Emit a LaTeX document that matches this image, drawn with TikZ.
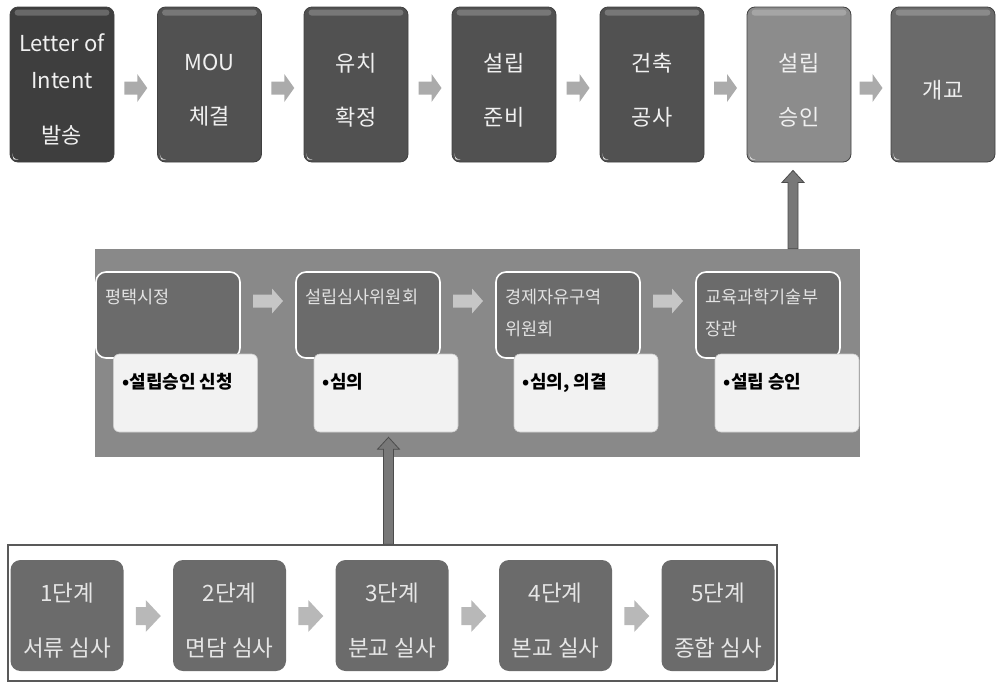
\documentclass[tikz,border=0pt]{standalone}
\usepackage{fontspec}
\setmainfont{Noto Sans CJK KR}
\usetikzlibrary{calc}
\definecolor{boxA}{HTML}{3E3E3E}
\definecolor{boxB}{HTML}{515151}
\definecolor{boxF}{HTML}{8C8C8C}
\definecolor{boxG}{HTML}{6A6A6A}
\definecolor{bandc}{HTML}{898989}
\definecolor{midfill}{HTML}{6B6B6B}
\definecolor{whitefill}{HTML}{F2F2F2}
\definecolor{botfill}{HTML}{6B6B6B}
\definecolor{arrowtop}{HTML}{ABABAB}
\definecolor{arrowmid}{HTML}{C6C6C6}
\definecolor{arrowbot}{HTML}{B8B8B8}
\definecolor{bigarr}{HTML}{787878}
\definecolor{toptext}{HTML}{F0F0F0}
\definecolor{midtext}{HTML}{E2E2E2}
\definecolor{bottext}{HTML}{E6E6E6}

\tikzset{
 topbox/.style={draw=black!75, line width=0.8pt, rounded corners=8pt, minimum width=104pt, minimum height=155pt, inner sep=0pt},
 toplabel/.style={text=toptext, align=center, inner sep=0pt, font=\fontsize{22}{54}\selectfont},
 midup/.style={draw=white, line width=1.6pt, fill=midfill, rounded corners=10pt, minimum width=144pt, minimum height=86pt, inner sep=0pt},
 midlabel/.style={text=midtext, align=left, anchor=north west, inner sep=0pt, font=\fontsize{17.5}{32}\selectfont},
 midlow/.style={draw=black!20, line width=0.6pt, fill=whitefill, rounded corners=6pt, minimum width=144pt, minimum height=78pt, inner sep=0pt},
 lowlabel/.style={text=black, anchor=north west, inner sep=0pt, font=\fontsize{18}{20}\selectfont\bfseries},
 botbox/.style={fill=botfill, rounded corners=10pt, minimum width=113pt, minimum height=111pt, inner sep=0pt},
 botlabel/.style={text=bottext, align=center, inner sep=0pt, font=\fontsize{22.5}{55}\selectfont},
 gloss/.style={fill=white, opacity=0.22, rounded corners=3pt},
 curl/.style={fill=white!88!black},
}

% horizontal block arrow: #1 centre, #2 shaft length, #3 head length, #4 shaft half width, #5 head half width, #6 colour
\newcommand\hblk[6]{%
 \fill[#6] let \p1=(#1) in
 ({\x1-0.5*(#2pt+#3pt)},{\y1-#4pt}) -- ({\x1-0.5*(#2pt+#3pt)+#2pt},{\y1-#4pt}) --
 ({\x1-0.5*(#2pt+#3pt)+#2pt},{\y1-#5pt}) -- ({\x1+0.5*(#2pt+#3pt)},\y1) --
 ({\x1-0.5*(#2pt+#3pt)+#2pt},{\y1+#5pt}) -- ({\x1-0.5*(#2pt+#3pt)+#2pt},{\y1+#4pt}) --
 ({\x1-0.5*(#2pt+#3pt)},{\y1+#4pt}) -- cycle;}

% vertical upward block arrow: #1 base, #2 tip
\newcommand\vblk[2]{%
 \filldraw[fill=bigarr, draw=black!70, line width=0.8pt] let \p1=(#1), \p2=(#2) in
 ({\x2-5pt},\y1) -- ({\x2-5pt},{\y2-12pt}) -- ({\x2-11pt},{\y2-12pt}) -- (\x2,\y2) --
 ({\x2+11pt},{\y2-12pt}) -- ({\x2+5pt},{\y2-12pt}) -- ({\x2+5pt},\y1) -- cycle;}

\begin{document}
\begin{tikzpicture}[x=1pt,y=-1pt]
\useasboundingbox (0,0) rectangle (997,683);

% ---------- top row ----------
\node[topbox, fill=boxA] (t1) at (62,84.5) {};
\node[topbox, fill=boxB] (t2) at (209.5,84.5) {};
\node[topbox, fill=boxB] (t3) at (356,84.5) {};
\node[topbox, fill=boxB] (t4) at (504,84.5) {};
\node[topbox, fill=boxB] (t5) at (652,84.5) {};
\node[topbox, fill=boxF] (t6) at (799,84.5) {};
\node[topbox, fill=boxG] (t7) at (943,84.5) {};

\foreach \n in {t1,t2,t3,t4,t5,t6,t7}{
  \fill[gloss] ($(\n.north west)+(5,3)$) rectangle ($(\n.north east)+(-5,9)$);
  \fill[curl] ($(\n.south west)+(2.5,-9)$) .. controls ($(\n.south west)+(4,-4)$) .. ($(\n.south west)+(9,-2.5)$) -- ($(\n.south west)+(4,-3)$) -- cycle;
}

\node[toplabel, font=\fontsize{22}{37}\selectfont] (t1l) at ($(t1.center)+(0,4.5)$) {Letter of\\Intent\\[18pt]발송};
\node[toplabel] (t2l) at ($(t2.center)+(0,5.5)$) {MOU\\체결};
\node[toplabel] (t3l) at ($(t3.center)+(0,5.5)$) {유치\\확정};
\node[toplabel] (t4l) at ($(t4.center)+(0,5.5)$) {설립\\준비};
\node[toplabel] (t5l) at ($(t5.center)+(0,5.5)$) {건축\\공사};
\node[toplabel] (t6l) at ($(t6.center)+(0,5.5)$) {설립\\승인};
\node[toplabel] (t7l) at ($(t7.center)+(0,5.5)$) {개교};

\foreach \a/\b in {t1/t2,t2/t3,t3/t4,t4/t5,t5/t6,t6/t7}{
  \coordinate (ta\a) at ($(\a.east)!.5!(\b.west)+(0,3.5)$);
  \hblk{ta\a}{13}{10}{6.5}{14}{arrowtop}
}

% ---------- middle band ----------
\node[fill=bandc, minimum width=765pt, minimum height=208pt, inner sep=0pt] (band) at (477.5,353) {};

\node[midup] (ma) at (168,315) {};
\node[midup] (mb) at (368,315) {};
\node[midup] (mc) at (568,315) {};
\node[midup] (md) at (768,315) {};

\node[midlabel] (mal) at ($(ma.north west)+(10,18)$) {평택시정};
\node[midlabel] (mbl) at ($(mb.north west)+(10,18)$) {설립심사위원회};
\node[midlabel] (mcl) at ($(mc.north west)+(10,18)$) {경제자유구역\\위원회};
\node[midlabel] (mdl) at ($(md.north west)+(10,18)$) {교육과학기술부\\장관};

\node[midlow] (wa) at (185.5,393) {};
\node[midlow] (wb) at (386,393) {};
\node[midlow] (wc) at (586,393) {};
\node[midlow] (wd) at (787,393) {};

\node[lowlabel] (wal) at ($(wa.north west)+(9,19)$) {•설립승인 신청};
\node[lowlabel] (wbl) at ($(wb.north west)+(9,19)$) {•심의};
\node[lowlabel] (wcl) at ($(wc.north west)+(9,19)$) {•심의, 의결};
\node[lowlabel] (wdl) at ($(wd.north west)+(9,19)$) {•설립 승인};

\foreach \a/\b in {ma/mb,mb/mc,mc/md}{
  \coordinate (ma\a) at ($(\a.east)!.5!(\b.west)+(0,-14)$);
  \hblk{ma\a}{19}{11}{6.5}{12.5}{arrowmid}
}

% arrow band -> 설립 승인
\coordinate (a1tip) at ($(t6.south)+(-6,8)$);
\coordinate (a1base) at (a1tip |- band.north);
\vblk{a1base}{a1tip}

% ---------- bottom frame ----------
\node[draw=black!65, line width=1.4pt, minimum width=769pt, minimum height=136pt, inner sep=0pt] (fr) at (392.5,613) {};

\node[botbox] (b1) at (67,615.5) {};
\node[botbox] (b2) at (229.5,615.5) {};
\node[botbox] (b3) at (392,615.5) {};
\node[botbox] (b4) at (555.5,615.5) {};
\node[botbox] (b5) at (718,615.5) {};

\node[botlabel] (b1l) at ($(b1.center)+(0,5)$) {1단계\\서류 심사};
\node[botlabel] (b2l) at ($(b2.center)+(0,5)$) {2단계\\면담 심사};
\node[botlabel] (b3l) at ($(b3.center)+(0,5)$) {3단계\\분교 실사};
\node[botlabel] (b4l) at ($(b4.center)+(0,5)$) {4단계\\본교 실사};
\node[botlabel] (b5l) at ($(b5.center)+(0,5)$) {5단계\\종합 심사};

\foreach \a/\b in {b1/b2,b2/b3,b3/b4,b4/b5}{
  \coordinate (ba\a) at ($(\a.east)!.5!(\b.west)+(0,0.5)$);
  \hblk{ba\a}{10}{15}{9}{16}{arrowbot}
}

% arrow frame -> 심의
\coordinate (a2tip) at ($(wb.south)+(2.5,5)$);
\coordinate (a2base) at (a2tip |- fr.north);
\vblk{a2base}{a2tip}

\end{tikzpicture}
\end{document}
